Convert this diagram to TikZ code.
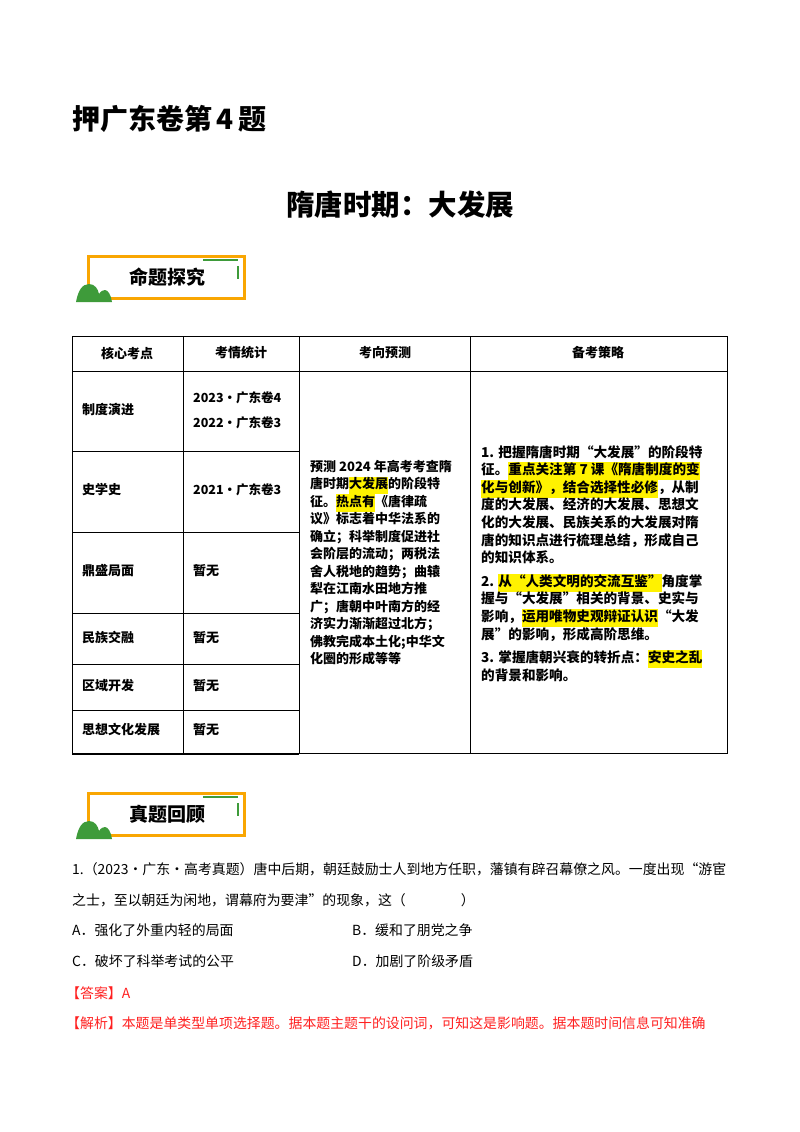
\documentclass[tikz,border=0pt]{standalone}
\usepackage{fontspec}
\setmainfont{Noto Sans CJK SC}
\definecolor{org}{HTML}{F9A602}
\definecolor{grn}{HTML}{3E9B3A}
\definecolor{ansred}{HTML}{FF2020}
\newcommand\hlt[1]{{\setlength\fboxsep{0pt}\colorbox{yellow}{\strut #1}}}
\tikzset{
 txt/.style={anchor=west,inner sep=0pt,align=left},
 cell/.style={anchor=west,inner sep=0pt,font=\fontsize{13}{16}\selectfont\bfseries},
 banner/.style={draw=org,line width=3pt,minimum width=156pt,minimum height=42pt,inner sep=0pt,font=\fontsize{19}{22}\selectfont\bfseries,anchor=north west},
}
\begin{document}
\begin{tikzpicture}[x=1pt,y=-1pt]
\useasboundingbox (0,0) rectangle (800,1132);
\node[txt,font=\fontsize{28}{32}\selectfont\bfseries] (t1) at (72,119) {押广东卷第\,4\,题};
\node[inner sep=0pt,font=\fontsize{28.5}{32}\selectfont\bfseries] (t2) at (400,205) {隋唐时期：大发展};
% banners
\foreach \yy/\lab/\nm in {253/命题探究/b1,790/真题回顾/b2}{
 \node[banner] (\nm) at (86.5,\yy+1.5) {\hspace*{2pt}\lab};
 \draw[grn,line width=1.3pt] (203,\yy+7) -- (238,\yy+7) (238,\yy+13) -- (238,\yy+26);
 \fill[grn] (76,\yy+49) .. controls (78,\yy+38) and (82,\yy+31) .. (89,\yy+31) .. controls (95,\yy+31) and (98,\yy+36) .. (99,\yy+41) .. controls (101,\yy+38) and (103,\yy+37) .. (105,\yy+37) .. controls (108,\yy+37) and (111,\yy+42) .. (112,\yy+49) -- cycle;
}
% table
\draw[line width=0.8pt] (72,336) rectangle (727,753);
\draw[line width=0.8pt] (72,371) -- (727,371);
\foreach \xx in {183,299,470} \draw[line width=0.8pt] (\xx,336) -- (\xx,753);
\foreach \yy in {451,532,613,664,710} \draw[line width=0.8pt] (72,\yy) -- (299,\yy);
\draw[line width=1.2pt] (72,754) -- (299,754);
\foreach \xx/\lab in {127/核心考点,241/考情统计,385/考向预测,598/备考策略}
 \node[inner sep=0pt,font=\fontsize{13}{16}\selectfont\bfseries] at (\xx,353) {\lab};
\node[cell] (r1) at (82,410) {制度演进};
\node[cell] (r2) at (82,490) {史学史};
\node[cell] (r3) at (82,571) {鼎盛局面};
\node[cell] (r4) at (82,638) {民族交融};
\node[cell] (r5) at (82,686) {区域开发};
\node[cell] (r6) at (82,730) {思想文化发展};
\node[cell,align=left,font=\fontsize{12.5}{25}\selectfont\bfseries] (s1) at (193,410) {2023·广东卷4\\2022·广东卷3};
\node[cell,font=\fontsize{12.5}{16}\selectfont\bfseries] (s2) at (193,490) {2021·广东卷3};
\foreach \yy in {571,638,686,730} \node[cell] at (193,\yy) {暂无};
\node[txt,anchor=north west,font=\fontsize{13}{17.5}\selectfont\bfseries] (mid) at (310,460) {%
预测 2024 年高考考查隋\\
唐时期\hlt{大发展}的阶段特\\
征。\hlt{热点有}《唐律疏\\
议》标志着中华法系的\\
确立；科举制度促进社\\
会阶层的流动；两税法\\
舍人税地的趋势；曲辕\\
犁在江南水田地方推\\
广；唐朝中叶南方的经\\
济实力渐渐超过北方；\\
佛教完成本土化;中华文\\
化圈的形成等等};
\node[txt,anchor=north west,font=\fontsize{13.6}{17.6}\selectfont\bfseries] (rt) at (481,445) {%
1. 把握隋唐时期“大发展”的阶段特\\
征。\hlt{重点关注第 7 课《隋唐制度的变}\\
\hlt{化与创新》，结合选择性必修}，从制\\
度的大发展、经济的大发展、思想文\\
化的大发展、民族关系的大发展对隋\\
唐的知识点进行梳理总结，形成自己\\
的知识体系。\\[6pt]
2. \hlt{从“人类文明的交流互鉴”}角度掌\\
握与“大发展”相关的背景、史实与\\
影响，\hlt{运用唯物史观辩证认识}“大发\\
展”的影响，形成高阶思维。\\[6pt]
3. 掌握唐朝兴衰的转折点：\hlt{安史之乱}\\
的背景和影响。};
% question
\begin{scope}[font=\fontsize{13.9}{16}\selectfont]
\node[txt] (q1) at (72,869) {1.（2023·广东·高考真题）唐中后期，朝廷鼓励士人到地方任职，藩镇有辟召幕僚之风。一度出现“游宦};
\node[txt] (q2) at (72,900) {之士，至以朝廷为闲地，谓幕府为要津”的现象，这（\hspace{55pt}）};
\node[txt] (qa) at (72,930) {A．强化了外重内轻的局面};
\node[txt] (qb) at (352,930) {B．缓和了朋党之争};
\node[txt] (qc) at (72,961) {C．破坏了科举考试的公平};
\node[txt] (qd) at (352,961) {D．加剧了阶级矛盾};
\node[txt,text=ansred] (ans) at (66,993) {【答案】A};
\node[txt,text=ansred] (jx) at (66,1023) {【解析】本题是单类型单项选择题。据本题主题干的设问词，可知这是影响题。据本题时间信息可知准确};
\end{scope}
\end{tikzpicture}
\end{document}
